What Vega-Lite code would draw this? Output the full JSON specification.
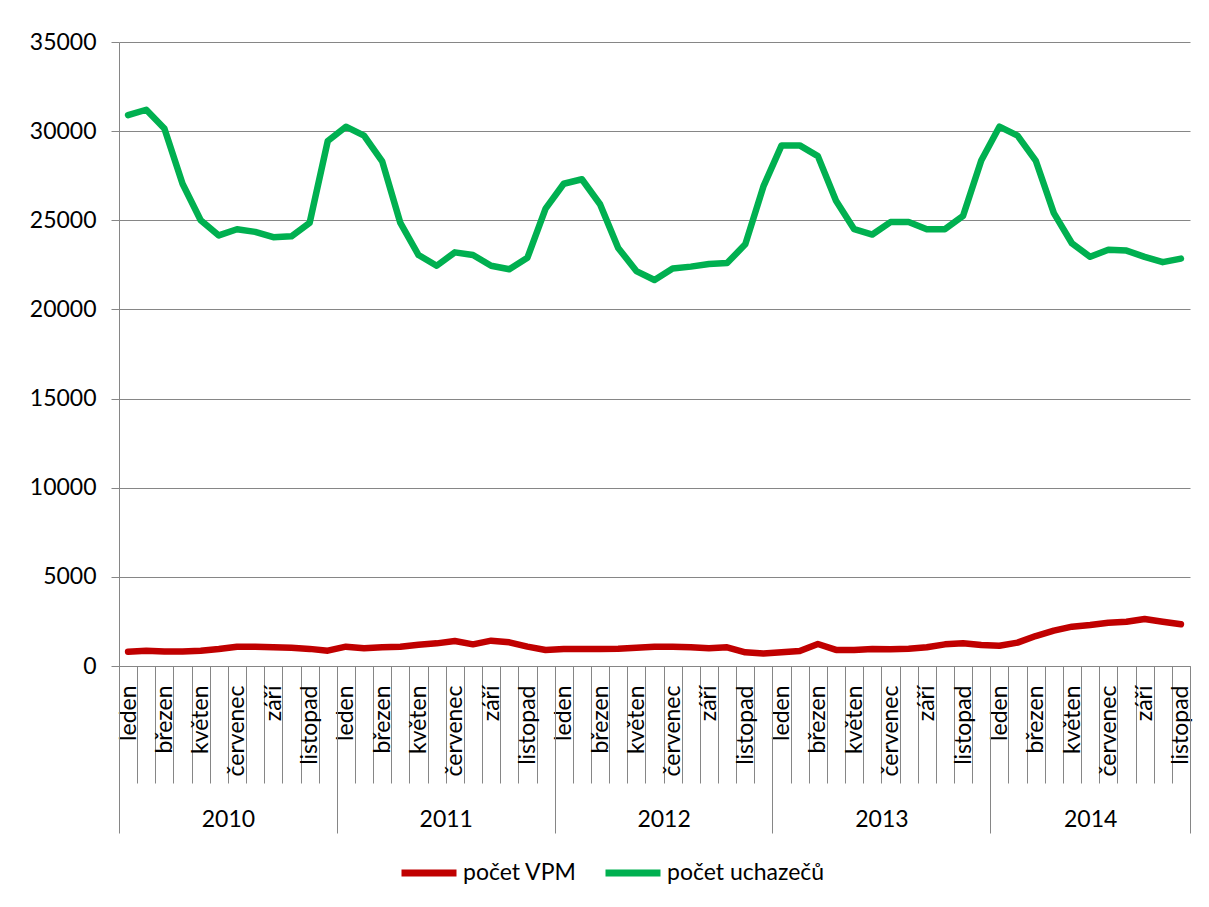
{
  "$schema": "https://vega.github.io/schema/vega-lite/v6.json",
  "width": 1071,
  "height": 624,
  "autosize": "none",
  "padding": {"left": 119, "top": 42, "right": 19, "bottom": 241},
  "background": "white",
  "config": {
    "font": "Lato",
    "view": {"stroke": null},
    "axis": {"labelFont": "Lato", "labelColor": "#000000", "titleFont": "Lato"}
  },
  "data": {
    "values": [
      {"i": 0, "rok": 2010, "mesic": "leden", "vpm": 800, "uchazeci": 30900},
      {"i": 1, "rok": 2010, "mesic": "únor", "vpm": 860, "uchazeci": 31200},
      {"i": 2, "rok": 2010, "mesic": "březen", "vpm": 810, "uchazeci": 30150},
      {"i": 3, "rok": 2010, "mesic": "duben", "vpm": 810, "uchazeci": 27050},
      {"i": 4, "rok": 2010, "mesic": "květen", "vpm": 860, "uchazeci": 25000},
      {"i": 5, "rok": 2010, "mesic": "červen", "vpm": 950, "uchazeci": 24150},
      {"i": 6, "rok": 2010, "mesic": "červenec", "vpm": 1085, "uchazeci": 24500},
      {"i": 7, "rok": 2010, "mesic": "srpen", "vpm": 1085, "uchazeci": 24350},
      {"i": 8, "rok": 2010, "mesic": "září", "vpm": 1050, "uchazeci": 24050},
      {"i": 9, "rok": 2010, "mesic": "říjen", "vpm": 1030, "uchazeci": 24100},
      {"i": 10, "rok": 2010, "mesic": "listopad", "vpm": 960, "uchazeci": 24850},
      {"i": 11, "rok": 2010, "mesic": "prosinec", "vpm": 860, "uchazeci": 29450},
      {"i": 12, "rok": 2011, "mesic": "leden", "vpm": 1085, "uchazeci": 30250},
      {"i": 13, "rok": 2011, "mesic": "únor", "vpm": 990, "uchazeci": 29750},
      {"i": 14, "rok": 2011, "mesic": "březen", "vpm": 1050, "uchazeci": 28300},
      {"i": 15, "rok": 2011, "mesic": "duben", "vpm": 1085, "uchazeci": 24850},
      {"i": 16, "rok": 2011, "mesic": "květen", "vpm": 1195, "uchazeci": 23050},
      {"i": 17, "rok": 2011, "mesic": "červen", "vpm": 1270, "uchazeci": 22450},
      {"i": 18, "rok": 2011, "mesic": "červenec", "vpm": 1400, "uchazeci": 23200},
      {"i": 19, "rok": 2011, "mesic": "srpen", "vpm": 1215, "uchazeci": 23050},
      {"i": 20, "rok": 2011, "mesic": "září", "vpm": 1420, "uchazeci": 22450},
      {"i": 21, "rok": 2011, "mesic": "říjen", "vpm": 1330, "uchazeci": 22250},
      {"i": 22, "rok": 2011, "mesic": "listopad", "vpm": 1085, "uchazeci": 22900},
      {"i": 23, "rok": 2011, "mesic": "prosinec", "vpm": 900, "uchazeci": 25650},
      {"i": 24, "rok": 2012, "mesic": "leden", "vpm": 950, "uchazeci": 27050},
      {"i": 25, "rok": 2012, "mesic": "únor", "vpm": 955, "uchazeci": 27300},
      {"i": 26, "rok": 2012, "mesic": "březen", "vpm": 955, "uchazeci": 25900},
      {"i": 27, "rok": 2012, "mesic": "duben", "vpm": 970, "uchazeci": 23450},
      {"i": 28, "rok": 2012, "mesic": "květen", "vpm": 1030, "uchazeci": 22150},
      {"i": 29, "rok": 2012, "mesic": "červen", "vpm": 1085, "uchazeci": 21650},
      {"i": 30, "rok": 2012, "mesic": "červenec", "vpm": 1085, "uchazeci": 22300},
      {"i": 31, "rok": 2012, "mesic": "srpen", "vpm": 1050, "uchazeci": 22400},
      {"i": 32, "rok": 2012, "mesic": "září", "vpm": 990, "uchazeci": 22550},
      {"i": 33, "rok": 2012, "mesic": "říjen", "vpm": 1050, "uchazeci": 22600},
      {"i": 34, "rok": 2012, "mesic": "listopad", "vpm": 770, "uchazeci": 23650},
      {"i": 35, "rok": 2012, "mesic": "prosinec", "vpm": 700, "uchazeci": 26900},
      {"i": 36, "rok": 2013, "mesic": "leden", "vpm": 770, "uchazeci": 29200},
      {"i": 37, "rok": 2013, "mesic": "únor", "vpm": 840, "uchazeci": 29200},
      {"i": 38, "rok": 2013, "mesic": "březen", "vpm": 1235, "uchazeci": 28600},
      {"i": 39, "rok": 2013, "mesic": "duben", "vpm": 900, "uchazeci": 26100},
      {"i": 40, "rok": 2013, "mesic": "květen", "vpm": 900, "uchazeci": 24500},
      {"i": 41, "rok": 2013, "mesic": "červen", "vpm": 955, "uchazeci": 24200},
      {"i": 42, "rok": 2013, "mesic": "červenec", "vpm": 940, "uchazeci": 24900},
      {"i": 43, "rok": 2013, "mesic": "srpen", "vpm": 970, "uchazeci": 24900},
      {"i": 44, "rok": 2013, "mesic": "září", "vpm": 1050, "uchazeci": 24500},
      {"i": 45, "rok": 2013, "mesic": "říjen", "vpm": 1215, "uchazeci": 24500},
      {"i": 46, "rok": 2013, "mesic": "listopad", "vpm": 1270, "uchazeci": 25250},
      {"i": 47, "rok": 2013, "mesic": "prosinec", "vpm": 1180, "uchazeci": 28350},
      {"i": 48, "rok": 2014, "mesic": "leden", "vpm": 1140, "uchazeci": 30250},
      {"i": 49, "rok": 2014, "mesic": "únor", "vpm": 1310, "uchazeci": 29750},
      {"i": 50, "rok": 2014, "mesic": "březen", "vpm": 1680, "uchazeci": 28350},
      {"i": 51, "rok": 2014, "mesic": "duben", "vpm": 1980, "uchazeci": 25400},
      {"i": 52, "rok": 2014, "mesic": "květen", "vpm": 2205, "uchazeci": 23700},
      {"i": 53, "rok": 2014, "mesic": "červen", "vpm": 2300, "uchazeci": 22950},
      {"i": 54, "rok": 2014, "mesic": "červenec", "vpm": 2430, "uchazeci": 23350},
      {"i": 55, "rok": 2014, "mesic": "srpen", "vpm": 2485, "uchazeci": 23300},
      {"i": 56, "rok": 2014, "mesic": "září", "vpm": 2640, "uchazeci": 22950},
      {"i": 57, "rok": 2014, "mesic": "říjen", "vpm": 2485, "uchazeci": 22650},
      {"i": 58, "rok": 2014, "mesic": "listopad", "vpm": 2340, "uchazeci": 22850}
    ]
  },
  "resolve": {"axis": {"x": "independent"}},
  "layer": [
    {
      "mark": {"type": "line", "strokeWidth": 6.5, "strokeCap": "round", "strokeJoin": "round"},
      "encoding": {
        "x": {
          "field": "i", "type": "quantitative",
          "scale": {"domain": [-0.5, 58.5], "nice": false, "zero": false},
          "axis": {
            "orient": "bottom", "title": null, "grid": false,
            "values": [-0.5,0.5,1.5,2.5,3.5,4.5,5.5,6.5,7.5,8.5,9.5,10.5,11.5,12.5,13.5,14.5,15.5,16.5,17.5,18.5,19.5,20.5,21.5,22.5,23.5,24.5,25.5,26.5,27.5,28.5,29.5,30.5,31.5,32.5,33.5,34.5,35.5,36.5,37.5,38.5,39.5,40.5,41.5,42.5,43.5,44.5,45.5,46.5,47.5,48.5,49.5,50.5,51.5,52.5,53.5,54.5,55.5,56.5,57.5,58.5],
            "labels": false, "ticks": true, "tickSize": 117, "tickColor": "#868686", "tickWidth": 1,
            "domain": true, "domainColor": "#868686", "domainWidth": 1
          }
        },
        "y": {
          "field": "vpm", "type": "quantitative",
          "scale": {"domain": [0, 35000], "nice": false},
          "axis": {
            "title": null, "values": [0,5000,10000,15000,20000,25000,30000,35000],
            "format": "d", "labelFontSize": 23, "labelPadding": 15,
            "tickSize": 8, "tickColor": "#868686", "domainColor": "#868686",
            "grid": true, "gridColor": "#868686", "gridWidth": 1
          }
        },
        "color": {
          "datum": "počet VPM",
          "scale": {"domain": ["počet VPM", "počet uchazečů"], "range": ["#C00000", "#00B050"]},
          "legend": {
            "title": null, "orient": "none", "direction": "horizontal",
            "legendX": 279, "legendY": 800,
            "symbolType": "stroke", "symbolSize": 3025, "symbolStrokeWidth": 7,
            "labelFontSize": 23, "labelFont": "Lato", "labelColor": "#000000",
            "labelOffset": 3, "columnPadding": 14
          }
        }
      }
    },
    {
      "mark": {"type": "line", "strokeWidth": 6.5, "strokeCap": "round", "strokeJoin": "round"},
      "encoding": {
        "x": {
          "field": "i", "type": "quantitative",
          "axis": {
            "orient": "bottom", "title": null, "grid": false, "domain": false, "ticks": false, "tickSize": 0,
            "values": [0,2,4,6,8,10,12,14,16,18,20,22,24,26,28,30,32,34,36,38,40,42,44,46,48,50,52,54,56,58],
            "labelExpr": "['leden','únor','březen','duben','květen','červen','červenec','srpen','září','říjen','listopad','prosinec'][datum.value % 12]",
            "labelAngle": -90, "labelAlign": "right", "labelBaseline": "middle",
            "labelPadding": 19, "labelFontSize": 23, "labelOverlap": false, "labelBound": false, "labelFlush": false
          }
        },
        "y": {"field": "uchazeci", "type": "quantitative"},
        "color": {"datum": "počet uchazečů"}
      }
    },
    {
      "mark": {"type": "line", "strokeOpacity": 0},
      "encoding": {
        "x": {
          "field": "i", "type": "quantitative",
          "axis": {
            "orient": "bottom", "title": null, "grid": false, "domain": false, "ticks": false, "tickSize": 0,
            "values": [5.5, 17.5, 29.5, 41.5, 53],
            "labelExpr": "'' + (2010 + floor((datum.value + 0.5) / 12))",
            "labelAngle": 0, "labelAlign": "center", "labelBaseline": "top",
            "labelPadding": 142, "labelFontSize": 23, "labelOverlap": false, "labelBound": false, "labelFlush": false
          }
        },
        "y": {"field": "uchazeci", "type": "quantitative"}
      }
    },
    {
      "mark": {"type": "line", "strokeOpacity": 0},
      "encoding": {
        "x": {
          "field": "i", "type": "quantitative",
          "axis": {
            "orient": "bottom", "title": null, "grid": false, "domain": false,
            "values": [-0.5, 11.5, 23.5, 35.5, 47.5, 58.5],
            "labels": false, "ticks": true, "tickSize": 167, "tickColor": "#868686", "tickWidth": 1
          }
        },
        "y": {"field": "uchazeci", "type": "quantitative"}
      }
    }
  ]
}
